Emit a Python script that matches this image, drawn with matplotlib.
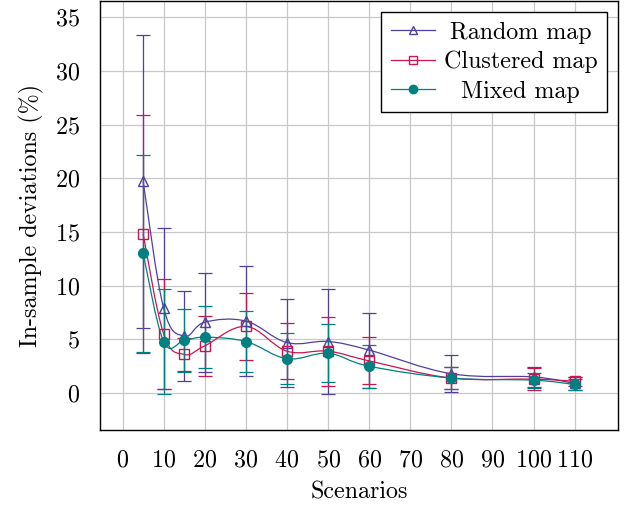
import matplotlib
matplotlib.use("Agg")
import matplotlib.pyplot as plt
from matplotlib.path import Path
from matplotlib.patches import PathPatch
from matplotlib.lines import Line2D

plt.rcParams['font.family'] = ['cmr10', 'DejaVu Serif']
plt.rcParams['mathtext.fontset'] = 'cm'
plt.rcParams['axes.formatter.use_mathtext'] = True

scenarios = [5, 10, 15, 20, 30, 40, 50, 60, 80, 100, 110]

random_mean = [19.7, 7.9, 5.3, 6.6, 6.7, 4.7, 4.8, 4.0, 1.8, 1.5, 0.9]
random_err = [13.6, 7.5, 4.2, 4.6, 5.1, 4.1, 4.9, 3.5, 1.7, 0.9, 0.6]

clustered_mean = [14.8, 5.5, 3.6, 4.4, 6.2, 3.9, 3.9, 3.0, 1.4, 1.3, 1.1]
clustered_err = [11.1, 5.1, 1.5, 2.8, 3.1, 2.6, 3.2, 2.2, 1.0, 1.0, 0.4]

mixed_mean = [13.0, 4.8, 4.9, 5.2, 4.8, 3.2, 3.7, 2.5, 1.4, 1.2, 0.8]
mixed_err = [9.2, 4.9, 2.9, 2.9, 2.8, 2.4, 2.7, 2.0, 1.0, 0.7, 0.5]

xticks = list(range(0, 111, 10))
yticks = list(range(0, 36, 5))

c_random = '#4f3f9f'
c_clustered = '#cc1450'
c_mixed = '#008080'

FS = 17.3


def smooth_path(xs, ys, tension=0.55):
    # tikz-like "smooth" drawing: cubic bezier through the points
    pts = list(zip(xs, ys))
    n = len(pts)
    verts = [pts[0]]
    codes = [Path.MOVETO]
    k = tension / 3.0
    for i in range(n - 1):
        p0 = pts[i - 1] if i > 0 else pts[i]
        p1 = pts[i]
        p2 = pts[i + 1]
        p3 = pts[i + 2] if i + 2 < n else pts[i + 1]
        c1 = (p1[0] + k * (p2[0] - p0[0]), p1[1] + k * (p2[1] - p0[1]))
        c2 = (p2[0] - k * (p3[0] - p1[0]), p2[1] - k * (p3[1] - p1[1]))
        verts += [c1, c2, p2]
        codes += [Path.CURVE4] * 3
    return Path(verts, codes)


fig = plt.figure(figsize=(6.26, 5.08), dpi=100)
ax = fig.add_axes([0.1597, 0.1535, 0.8273, 0.8445])

series = [
    ('Random map', random_mean, random_err, c_random, '^', 'none', 7),
    ('Clustered map', clustered_mean, clustered_err, c_clustered, 's', 'none', 7),
    ('Mixed map', mixed_mean, mixed_err, c_mixed, 'o', c_mixed, 7),
]

handles = []
for name, m, e, col, mk, fc, ms in series:
    ax.add_patch(PathPatch(smooth_path(scenarios, m), fill=False, edgecolor=col, lw=0.9, zorder=3))
    ax.errorbar(scenarios, m, yerr=e, fmt='none', ecolor=col, elinewidth=0.9,
                capsize=5, capthick=0.9, zorder=3)
    ax.plot(scenarios, m, ls='none', marker=mk, ms=ms, mfc=fc, mec=col, mew=1.0, zorder=4)
    handles.append(Line2D([], [], color=col, lw=0.9, marker=mk, ms=ms - 1,
                          mfc=fc, mec=col, mew=1.0))

ax.set_xlim(-5.5, 120.5)
ax.set_ylim(-3.44, 36.5)
ax.set_xticks(xticks)
ax.set_yticks(yticks)
ax.grid(True, color='#c8c8c8', lw=0.9)
ax.set_axisbelow(True)
ax.tick_params(axis='x', length=0, labelsize=FS, pad=14)
ax.tick_params(axis='y', length=0, labelsize=FS, pad=14.5)
for s in ax.spines.values():
    s.set_linewidth(1.0)

ax.set_xlabel('Scenarios', fontsize=FS, labelpad=7)
ax.set_ylabel('In-sample deviations (%)', fontsize=FS, labelpad=8)

leg = ax.legend(handles, [s[0] for s in series], loc='upper right', fontsize=FS,
                frameon=True, fancybox=False, edgecolor='black', framealpha=1,
                borderpad=0.4, labelspacing=0.3, handlelength=1.85,
                handletextpad=0.35, borderaxespad=0.45, numpoints=1)
leg.get_frame().set_linewidth(1.0)

# centre the legend entries like pgfplots does
renderer = fig.canvas.get_renderer()
widths = [t.get_window_extent(renderer).width for t in leg.get_texts()]
for t, w in zip(leg.get_texts(), widths):
    t.set_x((max(widths) - w) / 2)

fig.savefig('out.png', dpi=100)
